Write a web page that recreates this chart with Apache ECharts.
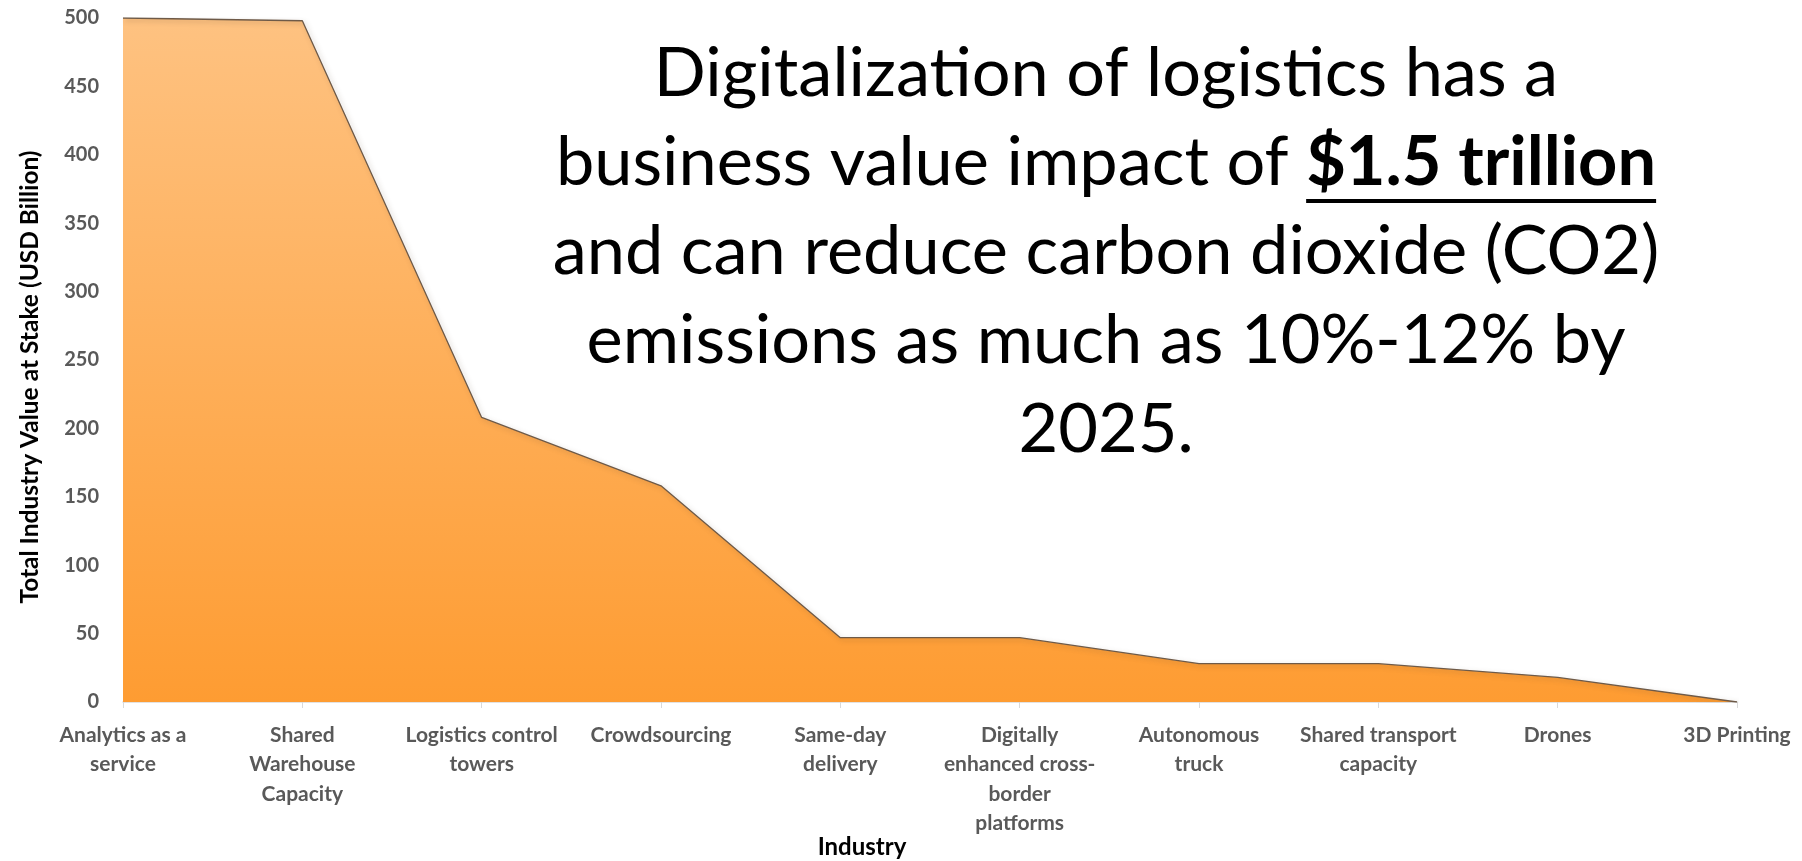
<!DOCTYPE html>
<html>
<head>
<meta charset="utf-8">
<script src="https://cdn.jsdelivr.net/npm/echarts@6/dist/echarts.min.js"></script>
<style>html,body{margin:0;padding:0;background:#fff;}#c{width:1802px;height:861px;}</style>
</head>
<body>
<div id="c"></div>
<script>
const categories = ['Analytics as a service','Shared Warehouse Capacity','Logistics control towers','Crowdsourcing','Same-day delivery','Digitally enhanced cross-border platforms','Autonomous truck','Shared transport capacity','Drones','3D Printing'];
const xTickLabels = ['Analytics as a\nservice','Shared\nWarehouse\nCapacity','Logistics control\ntowers','Crowdsourcing','Same-day\ndelivery','Digitally\nenhanced cross-\nborder\nplatforms','Autonomous\ntruck','Shared transport\ncapacity','Drones','3D Printing'];
const values = [500, 498, 208, 158, 47, 47, 28, 28, 18, 0];
const titleLines = ['Digitalization of logistics has a', 'business value impact of ', 'and can reduce carbon dioxide (CO2)', 'emissions as much as 10%-12% by', '2025.'];
const titleBold = '$1.5 trillion';

const FONT = 'Lato, "Open Sans", sans-serif';
const TFS = 68.5;
const chart = echarts.init(document.getElementById('c'));

const cv = document.createElement('canvas').getContext('2d');
function tw(t, w){ cv.font = w + ' ' + TFS + 'px Lato'; return cv.measureText(t).width; }

const cx = 1106, lh = 89, y0 = 74;
const graphics = [];
titleLines.forEach((t, i) => {
  if (i === 1) {
    const w1 = tw(t, 'normal'), w2 = tw(titleBold, 'bold');
    const left = cx - (w1 + w2) / 2;
    graphics.push({type:'text', x: left, y: y0 + i*lh, style:{text:t, font:'normal '+TFS+'px '+FONT, fill:'#000', textAlign:'left', textVerticalAlign:'middle'}});
    graphics.push({type:'text', x: left + w1, y: y0 + i*lh, style:{text:titleBold, font:'bold '+TFS+'px '+FONT, fill:'#000', textAlign:'left', textVerticalAlign:'middle'}});
    graphics.push({type:'rect', shape:{x:left + w1, y: y0 + i*lh + 36, width: w2, height: 4}, style:{fill:'#000'}});
  } else {
    graphics.push({type:'text', x: cx, y: y0 + i*lh, style:{text:t, font:'normal '+TFS+'px '+FONT, fill:'#000', textAlign:'center', textVerticalAlign:'middle'}});
  }
});

chart.setOption({
  animation: false,
  grid: {left: 123, right: 65, top: 18, bottom: 159, containLabel: false, outerBoundsMode: 'none'},
  xAxis: {
    type: 'category', data: categories, boundaryGap: false,
    name: 'Industry', nameLocation: 'middle', nameGap: 133, nameMoveOverlap: false,
    nameTextStyle: {fontFamily: FONT, fontWeight: 'bold', fontSize: 24, color: '#000', padding: [0, 136, 0, 0]},
    axisLine: {lineStyle: {color: '#D9D9D9', width: 1.5}},
    axisTick: {show: true, length: 6, lineStyle: {color: '#D9D9D9'}},
    axisLabel: {interval: 0, margin: 18, fontFamily: FONT, fontWeight: 'bold', fontSize: 21, color: '#595959', lineHeight: 29.5,
      formatter: (v, i) => xTickLabels[i]},
    splitLine: {show: false}
  },
  yAxis: {
    type: 'value', min: 0, max: 500, interval: 50,
    name: 'Total Industry Value at Stake (USD Billion)', nameLocation: 'middle', nameGap: 80, nameMoveOverlap: false,
    nameTextStyle: {fontFamily: FONT, fontWeight: 'bold', fontSize: 24.5, color: '#000', padding: [0, 34, 0, 0]},
    axisLine: {show: false}, axisTick: {show: false}, splitLine: {show: false},
    axisLabel: {margin: 24, fontFamily: FONT, fontWeight: 'bold', fontSize: 20, color: '#595959'}
  },
  series: [{
    type: 'line', data: values, symbol: 'none', smooth: false,
    lineStyle: {color: '#6e5a48', width: 1.3, shadowColor: 'rgba(90,70,50,0.35)', shadowBlur: 5, shadowOffsetX: 2, shadowOffsetY: 2},
    areaStyle: {
      opacity: 1,
      color: new echarts.graphic.LinearGradient(0, 0, 0, 1, [
        {offset: 0, color: '#FEC281'},
        {offset: 1, color: '#FE9C32'}
      ])
    }
  }],
  graphic: graphics
});
</script>
</body>
</html>
